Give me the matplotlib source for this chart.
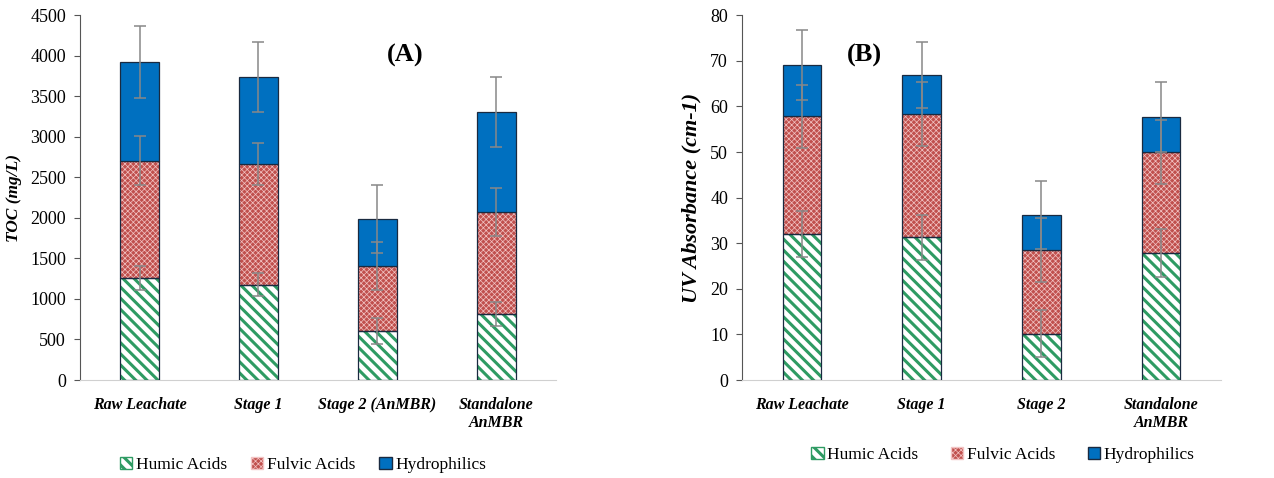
"""Stacked TOC / UV absorbance fractions for leachate treatment stages"""
import matplotlib
matplotlib.use('Agg')
import matplotlib.pyplot as plt
import numpy as np
from matplotlib.patches import Patch

plt.rcParams['font.family'] = ['Liberation Serif', 'DejaVu Serif']
plt.rcParams['hatch.linewidth'] = 2.2

cats_a = ['Raw Leachate', 'Stage 1', 'Stage 2 (AnMBR)', 'Standalone\nAnMBR']
cats_b = ['Raw Leachate', 'Stage 1', 'Stage 2', 'Standalone\nAnMBR']

# TOC (mg/L)
humic_a = [1260, 1175, 605, 815]
fulvic_a = [1445, 1495, 800, 1260]
hydro_a = [1220, 1065, 585, 1235]
err_humic_a = [150, 140, 165, 150]
err_fulvic_a = [300, 260, 295, 300]
err_hydro_a = [440, 430, 420, 430]

# UV absorbance (cm-1)
humic_b = [32.0, 31.3, 10.2, 27.8]
fulvic_b = [25.9, 27.1, 18.3, 22.3]
hydro_b = [11.2, 8.5, 7.7, 7.6]
err_humic_b = [5.1, 5.0, 5.2, 5.3]
err_fulvic_b = [6.9, 7.0, 7.0, 7.0]
err_hydro_b = [7.6, 7.3, 7.4, 7.6]

GREEN = '#2E9B63'
RED = '#C0504D'
BLUE = '#0070C0'
EDGE = '#1a2a40'
SPECK = '#f2c4c4'


def thin_hatch(patches, lw):
    for p in patches:
        if hasattr(p, 'set_hatch_linewidth'):
            p.set_hatch_linewidth(lw)


def panel(ax, cats, hum, ful, hyd, errs, ymax, ystep, ylabel, ysize, tag, tagx, tagy):
    x = np.arange(len(cats))
    w = 0.32
    hum = np.array(hum)
    ful = np.array(ful)
    hyd = np.array(hyd)
    # humic: white with green stripes
    ax.bar(x, hum, w, color='white', edgecolor=GREEN, hatch='\\\\\\', linewidth=0, zorder=2)
    ax.bar(x, hum, w, color='none', edgecolor=EDGE, linewidth=0.9, zorder=3)
    # fulvic: red with fine light speckle
    b = ax.bar(x, ful, w, bottom=hum, color=RED, edgecolor=SPECK, hatch='xxxxxx',
               linewidth=0, zorder=2)
    thin_hatch(b, 0.5)
    ax.bar(x, ful, w, bottom=hum, color='none', edgecolor=EDGE, linewidth=0.9, zorder=3)
    # hydrophilics
    ax.bar(x, hyd, w, bottom=hum + ful, color=BLUE, edgecolor=EDGE, linewidth=0.9, zorder=3)

    tops = [hum, hum + ful, hum + ful + hyd]
    for t, e in zip(tops, errs):
        ax.errorbar(x, t, yerr=e, fmt='none', ecolor='#888888', elinewidth=1.1,
                    capsize=4, capthick=1.1, zorder=4)

    ax.set_xlim(-0.5, len(cats) - 0.5)
    ax.set_ylim(0, ymax)
    ax.set_yticks(np.arange(0, ymax + ystep / 2, ystep))
    ax.set_xticks(x)
    ax.set_xticklabels(cats, fontsize=11.5, fontweight='bold', fontstyle='italic',
                       linespacing=1.2)
    ax.tick_params(axis='x', length=0, pad=12)
    ax.tick_params(axis='y', labelsize=13, length=4, color='#555555', pad=6)
    ax.spines['top'].set_visible(False)
    ax.spines['right'].set_visible(False)
    ax.spines['left'].set_color('#555555')
    ax.spines['bottom'].set_color('#d0d0d0')
    ax.set_ylabel(ylabel, fontsize=ysize, fontweight='bold', fontstyle='italic', labelpad=6)
    ax.text(tagx, tagy, tag, transform=ax.transAxes, fontsize=19, fontweight='bold',
            ha='center', va='center')

    handles = [Patch(facecolor='white', edgecolor=GREEN, hatch='\\\\\\', label='Humic Acids'),
               Patch(facecolor=RED, edgecolor=SPECK, hatch='xxxxxx', label='Fulvic Acids'),
               Patch(facecolor=BLUE, edgecolor=EDGE, label='Hydrophilics')]
    return handles


fig = plt.figure(figsize=(12.74, 4.78), dpi=100)
ax_a = fig.add_axes([0.0628, 0.205, 0.3736, 0.763])
ax_b = fig.add_axes([0.5824, 0.205, 0.376, 0.763])

h = panel(ax_a, cats_a, humic_a, fulvic_a, hydro_a,
          [err_humic_a, err_fulvic_a, err_hydro_a], 4500, 500,
          'TOC (mg/L)', 12.5, '(A)', 0.683, 0.89)
panel(ax_b, cats_b, humic_b, fulvic_b, hydro_b,
      [err_humic_b, err_fulvic_b, err_hydro_b], 80, 10,
      'UV Absorbance (cm-1)', 16, '(B)', 0.255, 0.89)

leg_a = fig.legend(handles=h, loc='center', bbox_to_anchor=(303 / 1274, 1 - 465 / 478), ncol=3,
                   frameon=False, fontsize=12.5, handlelength=0.7, handleheight=0.7,
                   handletextpad=0.2, columnspacing=1.4)
leg_b = fig.legend(handles=h, loc='center', bbox_to_anchor=(1003 / 1274, 1 - 455 / 478), ncol=3,
                   frameon=False, fontsize=12.5, handlelength=0.7, handleheight=0.7,
                   handletextpad=0.2, columnspacing=1.9)
for leg in (leg_a, leg_b):
    pats = leg.get_patches()
    thin_hatch([pats[1]], 0.5)
    pats[0].set_edgecolor(GREEN)
    pats[2].set_edgecolor(EDGE)

fig.savefig('out.png', dpi=100)
